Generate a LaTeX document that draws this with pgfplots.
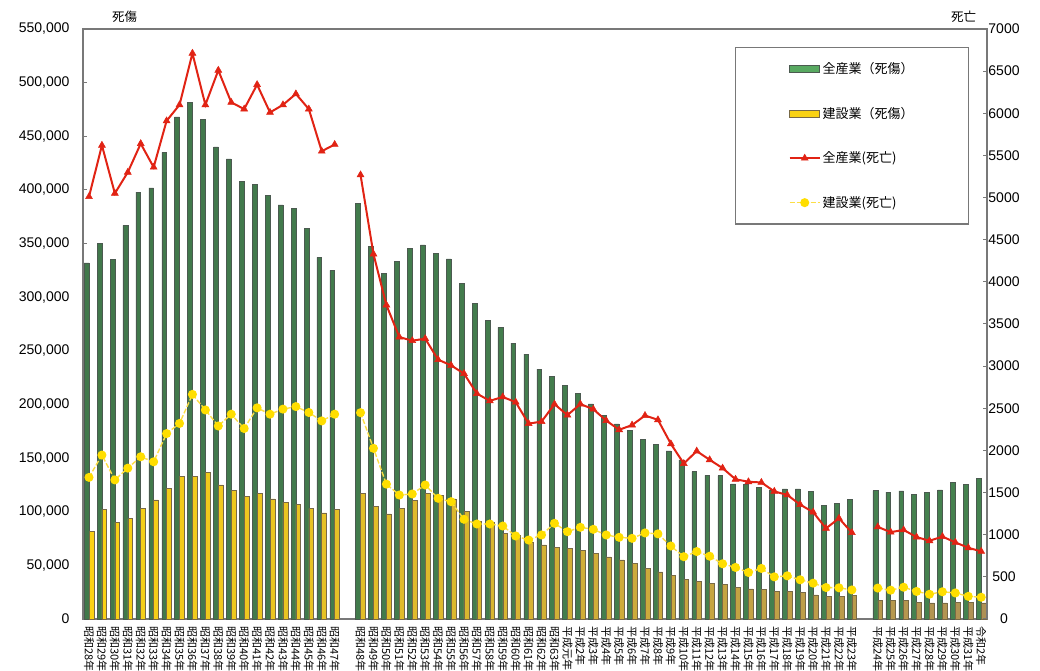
\documentclass[border=0pt]{standalone}
\usepackage{pgfplots}
\usepackage{pgfplotstable}
\pgfplotsset{compat=1.18}
\usepackage{fontspec}
\setmainfont{Liberation Sans}
\newfontfamily\cjk{Noto Sans CJK JP}
\definecolor{axgray}{RGB}{120,120,120}
\definecolor{gdark}{RGB}{65,120,75}
\definecolor{glight}{RGB}{95,185,105}
\definecolor{gedge}{RGB}{75,90,80}
\definecolor{ydark}{RGB}{175,145,85}
\definecolor{ylight}{RGB}{250,210,20}
\definecolor{yedge}{RGB}{120,105,70}
\definecolor{redl}{RGB}{225,35,20}
\definecolor{yell}{RGB}{252,222,70}
\definecolor{yellm}{RGB}{255,222,0}

\pgfplotstableread{
x allinj coninj alldeath condeath
0 332000 82000 5010 1680
1 350000 102000 5620 1945
2 335000 90000 5050 1650
3 367000 93500 5300 1790
4 398000 103000 5640 1925
5 402000 111000 5360 1865
6 435000 122000 5910 2200
7 468000 133000 6100 2320
8 481700 133000 6712 2665
9 466000 137000 6100 2480
10 440000 125000 6510 2290
11 429000 120000 6130 2430
12 408000 114000 6050 2260
13 405000 117000 6340 2505
14 395000 112000 6010 2430
15 386000 109000 6100 2490
16 383000 107000 6230 2520
17 364000 103000 6050 2450
18 337000 99000 5550 2350
19 325000 102000 5630 2430
20 nan nan nan nan
21 387342 117000 5269 2448
22 347407 105000 4330 2025
23 322322 98000 3725 1600
24 333311 103000 3345 1471
25 345293 110500 3302 1483
26 348826 117000 3326 1590
27 340731 115000 3077 1432
28 335706 112000 3009 1392
29 312844 100000 2912 1183
30 294319 91000 2674 1127
31 278623 90000 2588 1127
32 271884 79500 2635 1103
33 257240 78000 2572 985
34 246891 72000 2318 937
35 232953 69000 2342 997
36 226318 67000 2549 1135
37 217964 66000 2419 1036
38 210108 64000 2550 1088
39 200633 61000 2489 1064
40 189589 58000 2354 997
41 181900 55000 2245 969
42 176047 52000 2301 957
43 167316 47000 2414 1021
44 162862 44000 2363 1010
45 156726 41000 2078 866
46 148248 37000 1844 739
47 137316 35000 1992 800
48 133948 33500 1889 745
49 133598 32000 1790 655
50 125918 29700 1658 612
51 125750 28000 1628 552
52 122804 27500 1620 600
53 120354 26000 1514 500
54 121378 26000 1472 512
55 121356 24500 1357 465
56 119291 22500 1268 425
57 105718 21300 1075 373
58 107759 21000 1195 370
59 111349 22000 1024 345
60 nan nan nan nan
61 119576 17073 1093 367
62 118157 17189 1030 342
63 119535 17184 1057 377
64 116311 15584 972 327
65 117910 15058 928 294
66 120460 15129 978 323
67 127329 15374 909 309
68 125611 15183 845 269
69 131156 14977 802 258
}\data

\begin{document}
\begin{tikzpicture}
\begin{axis}[
  at={(83pt,52pt)}, anchor=south west,
  scale only axis, width=904pt, height=590pt,
  xmin=-0.464, xmax=69.45, ymin=0, ymax=550000,
  clip=false,
  axis line style={axgray, line width=1.5pt},
  ytick={0,50000,100000,150000,200000,250000,300000,350000,400000,450000,500000,550000},
  yticklabels={0,{50,000},{100,000},{150,000},{200,000},{250,000},{300,000},{350,000},{400,000},{450,000},{500,000},{550,000}},
  scaled y ticks=false,
  ytick pos=left,
  tick align=inside, major tick length=4pt,
  tick style={axgray, line width=1pt},
  major x tick style={draw=none},
  yticklabel style={font=\fontsize{14}{14}\selectfont, anchor=east, xshift=-10pt},
  xtick={0,1,2,3,4,5,6,7,8,9,10,11,12,13,14,15,16,17,18,19,21,22,23,24,25,26,27,28,29,30,31,32,33,34,35,36,37,38,39,40,41,42,43,44,45,46,47,48,49,50,51,52,53,54,55,56,57,58,59,61,62,63,64,65,66,67,68,69},
  xticklabels={昭和28年,昭和29年,昭和30年,昭和31年,昭和32年,昭和33年,昭和34年,昭和35年,昭和36年,昭和37年,昭和38年,昭和39年,昭和40年,昭和41年,昭和42年,昭和43年,昭和44年,昭和45年,昭和46年,昭和47年,
    昭和48年,昭和49年,昭和50年,昭和51年,昭和52年,昭和53年,昭和54年,昭和55年,昭和56年,昭和57年,昭和58年,昭和59年,昭和60年,昭和61年,昭和62年,昭和63年,平成元年,平成2年,平成3年,平成4年,平成5年,平成6年,平成7年,平成8年,平成9年,平成10年,平成11年,平成12年,平成13年,平成14年,平成15年,平成16年,平成17年,平成18年,平成19年,平成20年,平成21年,平成22年,平成23年,
    平成24年,平成25年,平成26年,平成27年,平成28年,平成29年,平成30年,平成31年,令和2年},
  xticklabel style={rotate=-90, anchor=west, font=\cjk\fontsize{11}{11}\selectfont},
  ybar=0pt, bar width=4.8pt,
]
\addplot[draw=gedge, line width=0.5pt, left color=gdark, middle color=glight, right color=gdark!85!glight] table[x=x,y=allinj]{\data};
\addplot[draw=yedge, line width=0.5pt, left color=ylight, middle color=ydark!80!ylight, right color=ydark] table[x=x,y=coninj]{\data};
\node[font=\cjk\fontsize{12.5}{12.5}\selectfont] at (rel axis cs:0.046,1.0203) {死傷};
\node[font=\cjk\fontsize{12.5}{12.5}\selectfont] at (rel axis cs:0.974,1.0203) {死亡};
\end{axis}

\begin{axis}[
  at={(83pt,52pt)}, anchor=south west,
  scale only axis, width=904pt, height=590pt,
  xmin=-0.464, xmax=69.45, ymin=0, ymax=7000,
  clip=false,
  axis x line=none, axis y line*=right,
  axis line style={axgray, line width=1.5pt},
  ytick={0,500,1000,1500,2000,2500,3000,3500,4000,4500,5000,5500,6000,6500,7000},
  yticklabels={0,500,1000,1500,2000,2500,3000,3500,4000,4500,5000,5500,6000,6500,7000},
  tick align=inside, major tick length=4pt,
  tick style={axgray, line width=1pt},
  yticklabel style={font=\fontsize{14}{14}\selectfont, anchor=center, xshift=17pt},
  legend image code/.code={\draw[mark repeat=2,mark phase=2,#1] plot coordinates {(0pt,0pt) (15pt,0pt) (30pt,0pt)};},
  legend style={at={(0.7212,0.9695)}, anchor=north west, draw=axgray, line width=1.5pt, fill=white,
    font=\cjk\fontsize{13}{13}\selectfont, inner xsep=53pt, inner ysep=13pt, row sep=28pt},
  legend cell align=left,
]
\addlegendimage{legend image code/.code={\draw[draw=gedge, line width=1pt, fill=glight!75!gdark] (0pt,-3.5pt) rectangle (30pt,3.5pt);}}
\addlegendentry{全産業（死傷）}
\addlegendimage{legend image code/.code={\draw[draw=yedge, line width=1pt, fill=ylight] (0pt,-3.5pt) rectangle (30pt,3.5pt);}}
\addlegendentry{建設業（死傷）}
\addplot[redl, line width=2pt, unbounded coords=jump, mark=triangle*, mark size=4pt, mark options={fill=redl, draw=redl, line width=0.5pt, solid}] table[x=x,y=alldeath]{\data};
\addlegendentry{全産業(死亡)}
\addplot[yell, line width=1.4pt, dash pattern=on 5pt off 2pt, unbounded coords=jump, mark=*, mark size=3.8pt, mark options={fill=yellm, draw=yellm, solid}] table[x=x,y=condeath]{\data};
\addlegendentry{建設業(死亡)}
\end{axis}
\pgfresetboundingbox
\useasboundingbox (0,0) rectangle (1040pt,671pt);
\end{tikzpicture}
\end{document}
